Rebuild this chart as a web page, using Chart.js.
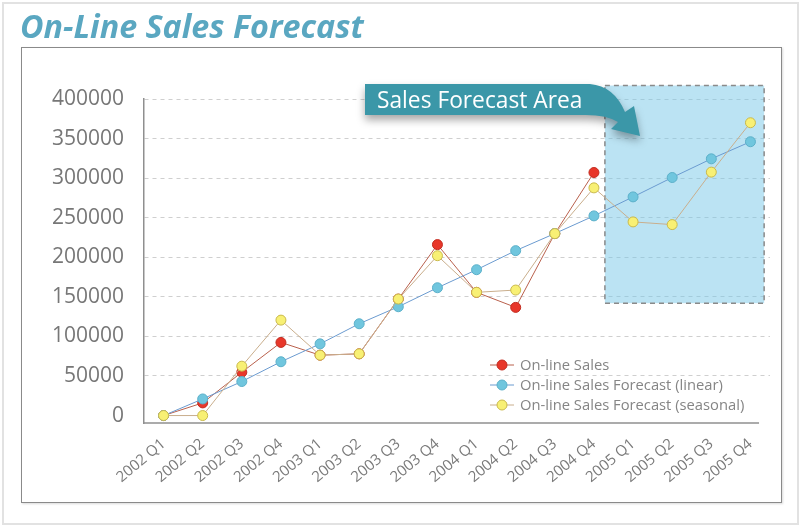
<!DOCTYPE html>
<html>
<head>
<meta charset="utf-8">
<script src="https://cdn.jsdelivr.net/npm/chart.js@4/dist/chart.umd.min.js"></script>
<style>
  html,body{margin:0;padding:0;background:#fff;}
  #wrap{position:relative;width:800px;height:526px;overflow:hidden;}
  #outer{position:absolute;left:2px;top:2px;width:793px;height:519px;border:2px solid #e2e2e2;}
  #inner{position:absolute;left:21px;top:47px;width:759px;height:454px;border:1.5px solid #8a8a8a;box-shadow:1px 1px 2px rgba(0,0,0,0.15);}
  canvas{position:absolute;left:0;top:0;}
</style>
</head>
<body>
<div id="wrap">
  <div id="outer"></div>
  <div id="inner"></div>
  <canvas id="chart" width="800" height="526"></canvas>
</div>
<script>
const categories = ['2002 Q1','2002 Q2','2002 Q3','2002 Q4','2003 Q1','2003 Q2','2003 Q3','2003 Q4',
                    '2004 Q1','2004 Q2','2004 Q3','2004 Q4','2005 Q1','2005 Q2','2005 Q3','2005 Q4'];
const onlineSales      = [0, 16000, 54800, 92400, 76300, 78000, 147200, 216000, 155700, 136700, 229900, 307100, null, null, null, null];
const linearForecast   = [0, 21000, 43000, 68000, 90600, 116000, 137500, 161500, 184300, 208400, 230000, 252300, 276300, 300800, 324400, 346000];
const seasonalForecast = [0, 0, 62400, 120600, 76300, 78000, 147200, 202000, 155700, 158600, 229900, 287700, 244700, 241300, 307600, 370000];
const seriesNames = ['On-line Sales','On-line Sales Forecast (linear)','On-line Sales Forecast (seasonal)'];
const yTickValues = [0, 50000, 100000, 150000, 200000, 250000, 300000, 350000, 400000];
const yFloor = -9400, yMax = 400000;   // axis sits a little below zero
// forecast area in data space (category index / value)
const forecastFrom = 11.28, forecastTo = 15.35, forecastLow = 142000, forecastHigh = 417000;
const axisEnd = 15.22; // where the x axis line stops (category index)
const titleText = 'On-Line Sales Forecast';
const calloutText = 'Sales Forecast Area';

const FONT = '"Open Sans", "Liberation Sans", sans-serif';

function fitFont(ctx, text, width, style, maxSize){
  let s = maxSize;
  ctx.font = `${style} ${s}px ${FONT}`;
  while(ctx.measureText(text).width > width && s > 6){ s -= 0.25; ctx.font = `${style} ${s}px ${FONT}`; }
  return s;
}

const forecastArea = {
  id:'forecastArea',
  beforeDatasetsDraw(chart){
    const {ctx, chartArea, scales:{x,y}} = chart;
    const l = x.getPixelForValue(forecastFrom), r = x.getPixelForValue(forecastTo);
    const t = y.getPixelForValue(forecastHigh), b = y.getPixelForValue(forecastLow);
    ctx.save();
    ctx.fillStyle = 'rgba(120,200,232,0.5)';
    ctx.fillRect(l, t, r-l, b-t);
    ctx.setLineDash([5,4]);
    ctx.strokeStyle = '#8a8a8a';
    ctx.lineWidth = 1.5;
    ctx.strokeRect(l, t, r-l, b-t);
    ctx.restore();
    // x axis line
    ctx.save();
    ctx.strokeStyle = '#8f8f8f';
    ctx.lineWidth = 1.5;
    ctx.beginPath();
    ctx.moveTo(chartArea.left, chartArea.bottom);
    ctx.lineTo(x.getPixelForValue(axisEnd), chartArea.bottom);
    ctx.stroke();
    ctx.restore();
  }
};

const decorations = {
  id:'decorations',
  afterDraw(chart){
    const ctx = chart.ctx;
    ctx.save();
    // title
    fitFont(ctx, titleText, 346, 'italic bold', 34);
    ctx.fillStyle = '#5aa7c1';
    ctx.textBaseline = 'alphabetic';
    ctx.textAlign = 'left';
    ctx.fillText(titleText, 20, 38);

    // callout with arrow
    ctx.save();
    ctx.shadowColor = 'rgba(0,0,0,0.35)';
    ctx.shadowBlur = 8;
    ctx.shadowOffsetY = 5;
    ctx.fillStyle = '#3b97a8';
    ctx.beginPath();
    ctx.moveTo(365, 84);
    ctx.lineTo(590, 84);
    ctx.quadraticCurveTo(614, 86, 625, 112);
    ctx.lineTo(634, 106);
    ctx.lineTo(640, 136);
    ctx.lineTo(611, 129);
    ctx.lineTo(618, 122);
    ctx.quadraticCurveTo(606, 114, 580, 115);
    ctx.lineTo(365, 115);
    ctx.closePath();
    ctx.fill();
    ctx.restore();
    fitFont(ctx, calloutText, 207, 'normal', 23);
    ctx.fillStyle = '#ffffff';
    ctx.fillText(calloutText, 377, 108);

    // legend
    const ds = chart.data.datasets;
    const lx = 502, ly = [365, 385, 405];
    fitFont(ctx, seriesNames[2], 228, 'normal', 16);
    ctx.textBaseline = 'middle';
    ds.forEach((d,i)=>{
      ctx.strokeStyle = d.borderColor;
      ctx.lineWidth = 1;
      ctx.beginPath(); ctx.moveTo(lx-12, ly[i]); ctx.lineTo(lx+12, ly[i]); ctx.stroke();
      ctx.beginPath(); ctx.arc(lx, ly[i], 5, 0, Math.PI*2);
      ctx.fillStyle = d.pointBackgroundColor; ctx.fill();
      ctx.strokeStyle = d.pointBorderColor; ctx.stroke();
      ctx.fillStyle = '#858585';
      ctx.fillText(d.label, lx+18, ly[i]+1);
    });
    ctx.restore();
  }
};

function series(label, data, line, fill, border, order){
  return {label, data, order, borderColor:line, borderWidth:1, pointRadius:5, pointHoverRadius:5,
    pointBackgroundColor:fill, pointBorderColor:border, pointBorderWidth:1, tension:0, spanGaps:false};
}

new Chart(document.getElementById('chart'), {
  type:'line',
  data:{
    labels:categories,
    datasets:[
      series(seriesNames[0], onlineSales, '#b9604c', '#e8372a', '#c22c20', 3),
      series(seriesNames[1], linearForecast, '#6b9bd0', '#70c6de', '#5cb0c9', 2),
      series(seriesNames[2], seasonalForecast, '#c9ae8c', '#f8f074', '#c9b94c', 1)
    ]
  },
  options:{
    responsive:false, animation:false, devicePixelRatio:1,
    layout:{padding:{left:0, top:99, right:30, bottom:0}},
    plugins:{legend:{display:false}, tooltip:{enabled:false}, title:{display:false}},
    scales:{
      x:{
        offset:true,
        grid:{display:false, drawTicks:false},
        border:{display:false},
        ticks:{color:'#7a7a7a', font:{family:FONT, size:15}, maxRotation:40, minRotation:40, padding:12, autoSkip:false},
        afterFit(s){ s.height = 103; }
      },
      y:{
        min:yFloor, max:yMax,
        grid:{color:c => c.tick && c.tick.value > 0 ? '#cfcfcf' : 'rgba(0,0,0,0)', lineWidth:1, drawTicks:false},
        border:{display:true, color:'#8f8f8f', width:1.5, dash:[4,4]},
        ticks:{color:'#777', font:{family:FONT, size:21}, padding:20, callback:v=>String(v)},
        afterBuildTicks(s){ s.ticks = yTickValues.map(v => ({value:v})); },
        afterFit(s){ s.width = 144; }
      }
    }
  },
  plugins:[forecastArea, decorations]
});
</script>
</body>
</html>
